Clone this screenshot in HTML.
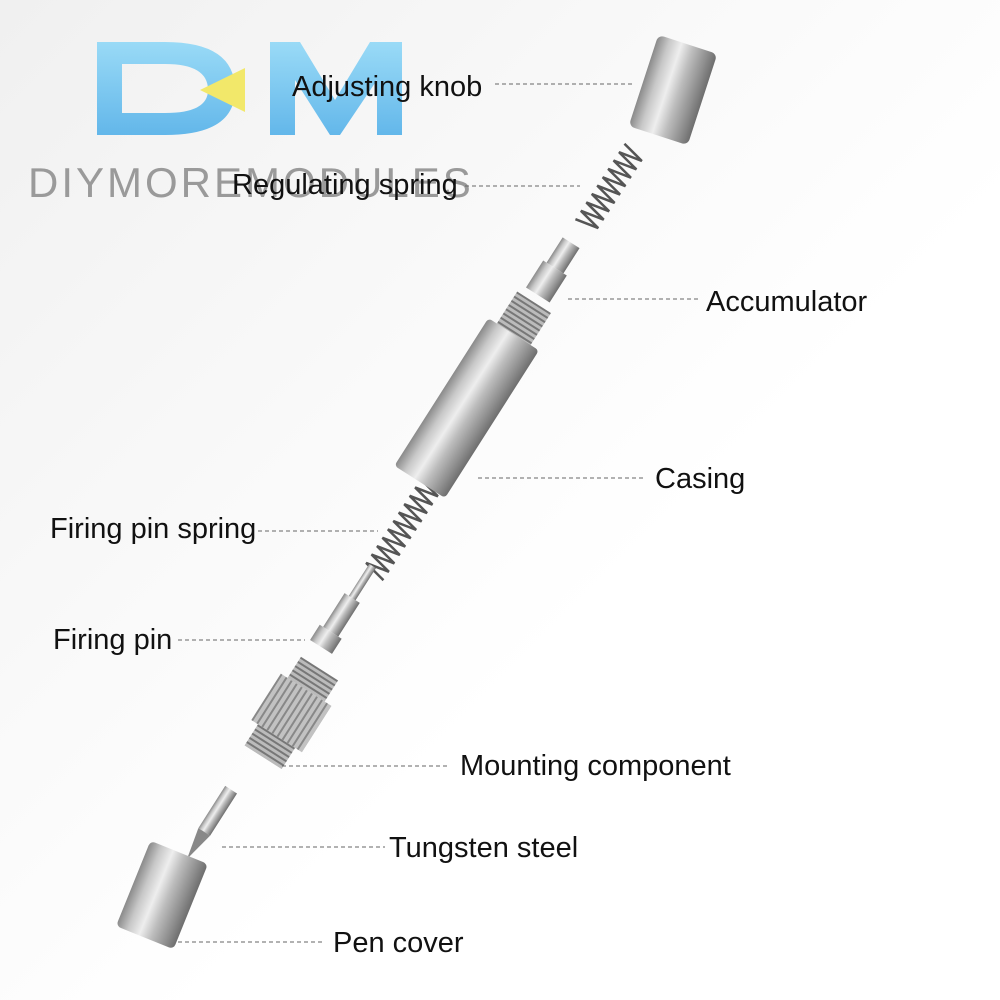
<!DOCTYPE html>
<html><head><meta charset="utf-8"><style>
html,body{margin:0;padding:0;background:#fff}
svg{display:block}
text{font-family:"Liberation Sans",sans-serif}
</style></head><body>
<svg width="1000" height="1000" viewBox="0 0 1000 1000" xmlns="http://www.w3.org/2000/svg">
<defs>
<linearGradient id="bg" x1="0" y1="0" x2="1" y2="1">
<stop offset="0" stop-color="#f0f0f0"/><stop offset="0.35" stop-color="#f9f9f9"/><stop offset="0.6" stop-color="#ffffff"/><stop offset="1" stop-color="#ffffff"/></linearGradient>
<linearGradient id="metal" x1="0" y1="0" x2="1" y2="0">
<stop offset="0" stop-color="#8a8a8a"/><stop offset="0.2" stop-color="#c8c8c8"/><stop offset="0.4" stop-color="#eeeeee"/><stop offset="0.6" stop-color="#bdbdbd"/><stop offset="0.85" stop-color="#8d8d8d"/><stop offset="1" stop-color="#6e6e6e"/></linearGradient>
<linearGradient id="blue" x1="0" y1="0" x2="0" y2="1">
<stop offset="0" stop-color="#8ad6f7"/><stop offset="1" stop-color="#49ace8"/></linearGradient>
<pattern id="thread" width="8" height="5" patternUnits="userSpaceOnUse"><rect width="8" height="5" fill="#bbb"/><rect width="8" height="2" fill="#777"/></pattern>
<pattern id="knurl" width="6" height="6" patternUnits="userSpaceOnUse"><rect width="6" height="6" fill="#c2c2c2"/><rect width="2" height="6" fill="#888"/></pattern>
</defs>
<rect width="1000" height="1000" fill="url(#bg)"/>

<!-- logo -->
<path d="M97 42 H165 Q235 42 235 90 Q235 135 165 135 H97 Z M122 64 V113 H165 Q208 113 208 90 Q208 64 165 64 Z" fill="url(#blue)" opacity="0.85"/>
<path d="M200 90 L245 68 L245 112 Z" fill="#f2e86a"/>
<path d="M270 42 H300 L335 100 L370 42 H402 V135 H377 V80 L340 135 H330 L295 80 V135 H270 Z" fill="url(#blue)" opacity="0.85"/>
<text x="28" y="197" font-size="42" fill="#9a9a9a" letter-spacing="3">DIYMOREMODULES</text>

<!-- springs -->
<g stroke="#555" stroke-width="2.5" fill="none">
<path transform="translate(610,188) rotate(33)" d="M-12 -45 l24 5 l-24 5 l24 5 l-24 5 l24 5 l-24 5 l24 5 l-24 5 l24 5 l-24 5 l24 5 l-24 5 l24 5 l-24 5 l24 5 l-24 5 l24 5 l-24 5"/>
<path transform="translate(405,525) rotate(33)" d="M-12 -57 l24 5 l-24 5 l24 5 l-24 5 l24 5 l-24 5 l24 5 l-24 5 l24 5 l-24 5 l24 5 l-24 5 l24 5 l-24 5 l24 5 l-24 5 l24 5 l-24 5 l24 5 l-24 5 l24 5 l-24 5 l24 5"/>
</g>

<!-- components -->
<g transform="translate(673,90) rotate(18)"><rect x="-31" y="-48" width="62" height="96" rx="6" fill="url(#metal)"/></g>
<g transform="translate(555,268) rotate(32.5)"><rect x="-10" y="-30" width="20" height="30" fill="url(#metal)"/><rect x="-14" y="0" width="28" height="32" fill="url(#metal)"/></g>
<g transform="translate(475,395) rotate(32.5)">
<rect x="-20" y="-110" width="40" height="40" fill="url(#thread)"/>
<rect x="-30" y="-72" width="60" height="175" rx="4" fill="url(#metal)"/></g>
<g transform="translate(335,625) rotate(32.5)">
<rect x="-4" y="-70" width="8" height="40" fill="url(#metal)"/>
<rect x="-9" y="-32" width="18" height="40" fill="url(#metal)"/>
<rect x="-13" y="8" width="26" height="18" fill="url(#metal)"/></g>
<g transform="translate(290,715) rotate(32.5)">
<rect x="-22" y="-55" width="44" height="25" fill="url(#thread)"/>
<rect x="-30" y="-30" width="60" height="55" fill="url(#knurl)"/>
<rect x="-22" y="25" width="44" height="25" fill="url(#thread)"/></g>
<g transform="translate(215,815) rotate(32.5)">
<rect x="-7" y="-30" width="14" height="50" fill="url(#metal)"/>
<path d="M-7 20 L7 20 L0 52 Z" fill="#888"/></g>
<g transform="translate(162,895) rotate(22)"><rect x="-31" y="-46" width="62" height="92" rx="5" fill="url(#metal)"/></g>

<!-- leader lines -->
<g stroke="#666" stroke-width="1" stroke-dasharray="4,3">
<line x1="495" y1="84" x2="635" y2="84"/>
<line x1="465" y1="186" x2="580" y2="186"/>
<line x1="568" y1="299" x2="698" y2="299"/>
<line x1="478" y1="478" x2="645" y2="478"/>
<line x1="258" y1="531" x2="378" y2="531"/>
<line x1="178" y1="640" x2="305" y2="640"/>
<line x1="282" y1="766" x2="450" y2="766"/>
<line x1="222" y1="847" x2="385" y2="847"/>
<line x1="178" y1="942" x2="325" y2="942"/>
</g>

<g font-size="29" fill="#111">
<text x="292" y="96">Adjusting knob</text>
<text x="232" y="194">Regulating spring</text>
<text x="706" y="311">Accumulator</text>
<text x="655" y="488">Casing</text>
<text x="50" y="538">Firing pin spring</text>
<text x="53" y="649">Firing pin</text>
<text x="460" y="775">Mounting component</text>
<text x="389" y="857">Tungsten steel</text>
<text x="333" y="952">Pen cover</text>
</g>
</svg>
</body></html>
